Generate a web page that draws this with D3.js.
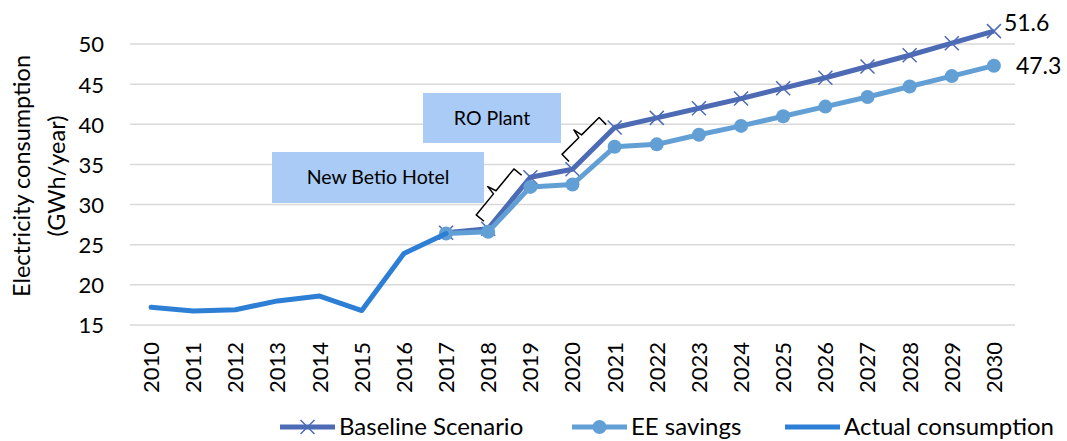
<!DOCTYPE html>
<html>
<head>
<meta charset="utf-8">
<script src="https://cdn.jsdelivr.net/npm/d3@7"></script>
<style>
  body { margin: 0; background: #fff; }
  text { font-family: Lato, "Open Sans", sans-serif; fill: #000; }
</style>
</head>
<body>
<svg id="chart"></svg>
<script>
// data
const years = d3.range(2010, 2031).map(String);
const yTicks = [15, 20, 25, 30, 35, 40, 45, 50];
const actualYears = ['2010', '2011', '2012', '2013', '2014', '2015', '2016', '2017'];
const actualValues = [17.2, 16.75, 16.9, 18.0, 18.6, 16.8, 23.9, 26.4];
const scenarioYears = ['2017', '2018', '2019', '2020', '2021', '2022', '2023', '2024',
  '2025', '2026', '2027', '2028', '2029', '2030'];
const baselineValues = [26.5, 27.0, 33.4, 34.4, 39.6, 40.8, 42.0, 43.2, 44.5, 45.8, 47.2, 48.6, 50.1, 51.6];
const eeValues = [26.4, 26.6, 32.2, 32.5, 37.2, 37.5, 38.7, 39.8, 41.0, 42.2, 43.4, 44.7, 46.0, 47.3];
const annotations = [
  { text: 'New Betio Hotel', from: '2018', to: '2019' },
  { text: 'RO Plant', from: '2020', to: '2021' }
];

const width = 1067, height = 441;
const colors = { baseline: '#4d6bb5', ee: '#629fd5', actual: '#2d7fd6' };

const svg = d3.select('#chart').attr('width', width).attr('height', height);

const x = d3.scaleBand().domain(years).range([130, 1015]).padding(0);
const y = d3.scaleLinear().domain([15, 50]).range([325, 44]);
const cx = d => x(d) + x.bandwidth() / 2;

// gridlines
svg.append('g').selectAll('line').data(yTicks).join('line')
  .attr('x1', 130).attr('x2', 1015)
  .attr('y1', d => y(d)).attr('y2', d => y(d))
  .attr('stroke', '#d9d9d9').attr('stroke-width', 1.5);

// y axis
const yAxis = d3.axisLeft(y).tickValues(yTicks).tickSize(0).tickPadding(0);
svg.append('g').attr('transform', 'translate(104,0)').call(yAxis)
  .call(g => g.select('.domain').remove())
  .selectAll('text').style('font-size', '22px').attr('font-family', null)
  .attr('dy', '0.36em');

// x axis labels, rotated
const xAxis = d3.axisBottom(x).tickSize(0).tickPadding(0);
svg.append('g').attr('transform', 'translate(0,342)').call(xAxis)
  .call(g => g.select('.domain').remove())
  .selectAll('text')
  .style('font-size', '22px').attr('font-family', null)
  .attr('text-anchor', 'end')
  .attr('transform', 'rotate(-90)')
  .attr('x', 0).attr('y', 0).attr('dy', '0.36em');

// y axis title, two lines
[['Electricity consumption', 22], ['(GWh/year)', 57]].forEach(([t, tx]) => {
  svg.append('text')
    .attr('transform', `translate(${tx},176) rotate(-90)`)
    .attr('text-anchor', 'middle').attr('dy', '0.35em')
    .style('font-size', '23.5px').text(t);
});

const line = d3.line().x(d => cx(d[0])).y(d => y(d[1]));
const baseline = d3.zip(scenarioYears, baselineValues);
const ee = d3.zip(scenarioYears, eeValues);
const actual = d3.zip(actualYears, actualValues);

// annotation boxes
const boxes = [
  { x0: 272, x1: 484, y0: 152, y1: 203 },
  { x0: 423, x1: 561, y0: 93, y1: 143 }
];
annotations.forEach((a, i) => {
  const b = boxes[i];
  svg.append('rect').attr('x', b.x0).attr('y', b.y0)
    .attr('width', b.x1 - b.x0).attr('height', b.y1 - b.y0)
    .attr('fill', '#a9cbf6');
  svg.append('text').attr('x', (b.x0 + b.x1) / 2).attr('y', (b.y0 + b.y1) / 2)
    .attr('dy', '0.35em').attr('text-anchor', 'middle')
    .style('font-size', '19.5px').text(a.text);
});

// baseline line
svg.append('path').datum(baseline).attr('d', line)
  .attr('fill', 'none').attr('stroke', colors.baseline).attr('stroke-width', 5)
  .attr('stroke-linejoin', 'round');

svg.append('g').selectAll('path').data(baseline).join('path')
  .attr('transform', d => `translate(${cx(d[0])},${y(d[1])})`)
  .attr('d', 'M-7,-7L7,7M-7,7L7,-7')
  .attr('stroke', colors.baseline).attr('stroke-width', 1.5);

// EE savings line
svg.append('path').datum(ee).attr('d', line)
  .attr('fill', 'none').attr('stroke', colors.ee).attr('stroke-width', 5)
  .attr('stroke-linejoin', 'round');
svg.append('g').selectAll('circle').data(ee).join('circle')
  .attr('cx', d => cx(d[0])).attr('cy', d => y(d[1])).attr('r', 7)
  .attr('fill', colors.ee);

// actual consumption
svg.append('path').datum(actual).attr('d', line)
  .attr('fill', 'none').attr('stroke', colors.actual).attr('stroke-width', 5)
  .attr('stroke-linejoin', 'round').attr('stroke-linecap', 'round');

// braces along the jumps in the baseline
annotations.forEach(a => {
  const p1 = [cx(a.from), y(baselineValues[scenarioYears.indexOf(a.from)])];
  const p2 = [cx(a.to), y(baselineValues[scenarioYears.indexOf(a.to)])];
  const len = Math.hypot(p2[0] - p1[0], p2[1] - p1[1]);
  const dir = [(p2[0] - p1[0]) / len, (p2[1] - p1[1]) / len];
  const n = [dir[1], -dir[0]];
  const pt = (along, off) => [p1[0] + along * dir[0] + off * n[0], p1[1] + along * dir[1] + off * n[1]];
  const a0 = 3, a1 = len - 4, mid = len / 2;
  const pts = [pt(a0, 8), pt(a0, 18), pt(mid - 3, 18), pt(mid - 1, 27), pt(mid + 1, 18), pt(a1, 18), pt(a1, 8)];
  svg.append('path').attr('d', d3.line()(pts))
    .attr('fill', 'none').attr('stroke', '#000').attr('stroke-width', 1.5)
    .attr('stroke-linejoin', 'round');
});

// end value labels
const last = scenarioYears.length - 1;
svg.append('text').attr('x', cx(scenarioYears[last]) + 10).attr('y', y(baselineValues[last]) - 8)
  .attr('dy', '0.35em').style('font-size', '23px').text(baselineValues[last].toFixed(1));
svg.append('text').attr('x', cx(scenarioYears[last]) + 22).attr('y', y(eeValues[last]))
  .attr('dy', '0.35em').style('font-size', '23px').text(eeValues[last].toFixed(1));

// legend
const legend = [
  { name: 'Baseline Scenario', color: colors.baseline, marker: 'x', x: 280 },
  { name: 'EE savings', color: colors.ee, marker: 'o', x: 572 },
  { name: 'Actual consumption', color: colors.actual, marker: null, x: 785 }
];
const lg = svg.append('g').attr('transform', 'translate(0,427)');
legend.forEach(l => {
  lg.append('line').attr('x1', l.x).attr('x2', l.x + 55).attr('y1', 0).attr('y2', 0)
    .attr('stroke', l.color).attr('stroke-width', 5);
  if (l.marker === 'x') {
    lg.append('path').attr('transform', `translate(${l.x + 27.5},0)`)
      .attr('d', 'M-7,-7L7,7M-7,7L7,-7').attr('stroke', l.color).attr('stroke-width', 1.5);
  } else if (l.marker === 'o') {
    lg.append('circle').attr('cx', l.x + 27.5).attr('cy', 0).attr('r', 7).attr('fill', l.color);
  }
  lg.append('text').attr('x', l.x + 59).attr('y', 0).attr('dy', '0.35em')
    .style('font-size', '24px').text(l.name);
});
</script>
</body>
</html>
